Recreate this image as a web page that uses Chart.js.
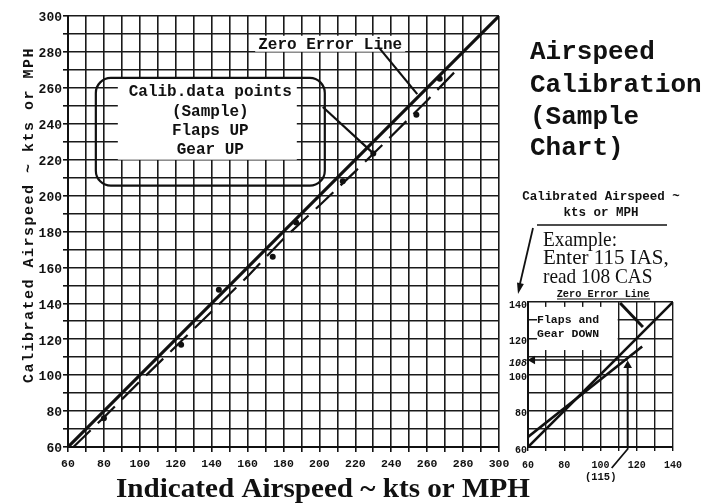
<!DOCTYPE html>
<html><head><meta charset="utf-8">
<script src="https://cdn.jsdelivr.net/npm/chart.js@4/dist/chart.umd.min.js"></script>
<style>
html,body{margin:0;padding:0;background:#fff;}
#wrap{position:relative;width:706px;height:504px;overflow:hidden;}
#main{position:absolute;left:0;top:0;}
#inset{position:absolute;left:480px;top:280px;}
</style></head><body>
<div id="wrap">
<canvas id="main" width="706" height="504"></canvas>
<canvas id="inset" width="226" height="224"></canvas>
</div>
<script>
// ---- main chart data (Indicated vs Calibrated airspeed) ----
const axisMin = 60, axisMax = 300, gridStep = 10, labelStep = 20;
const zeroLineIAS = [60, 300];
const zeroLineCAS = [60, 300];
const calibCurveIAS = [63, 80, 100, 120, 140, 160, 180, 200, 220, 240, 260, 275];
const calibCurveCAS = [60, 76.5, 96.5, 116, 135.5, 155, 176, 194.5, 213.5, 233, 253, 268.5];
const samplePointsIAS = [80, 123, 144, 174, 187, 213, 230, 254, 267];
const samplePointsCAS = [76, 117, 147.5, 166, 185, 208, 223.5, 245, 265];
// ---- inset chart data (Flaps and Gear DOWN) ----
const insetMin = 60, insetMax = 140;
const insetZeroIAS = [60, 140];
const insetZeroCAS = [60, 140];
const insetCalibIAS = [60, 123];
const insetCalibCAS = [65.5, 115.5];
const exampleIAS = 115, exampleCAS = 108;
// ---- texts ----
const titleLines = ['Airspeed', 'Calibration', '(Sample', 'Chart)'];
const calloutLines = ['Calib.data points', '(Sample)', 'Flaps UP', 'Gear UP'];
const exampleLines = ['Example:', 'Enter 115 IAS,', 'read 108 CAS'];
const insetAxisLines = ['Calibrated Airspeed ~', 'kts or MPH'];
const insetCalloutLines = ['Flaps and', 'Gear DOWN'];
const xTitle = 'Indicated Airspeed ~ kts or MPH';
const yTitle = 'Calibrated Airspeed ~ kts or MPH';

const INK = '#111';
const pts = (xs, ys) => xs.map((x, i) => ({x, y: ys[i]}));
const mono = 'Liberation Mono';

function arrowHead(ctx, x0, y0, x1, y1, len, half) {
  const a = Math.atan2(y1 - y0, x1 - x0);
  ctx.beginPath();
  ctx.moveTo(x1, y1);
  ctx.lineTo(x1 - len * Math.cos(a) + half * Math.sin(a), y1 - len * Math.sin(a) - half * Math.cos(a));
  ctx.lineTo(x1 - len * Math.cos(a) - half * Math.sin(a), y1 - len * Math.sin(a) + half * Math.cos(a));
  ctx.closePath();
  ctx.fill();
}
function roundRect(ctx, x, y, w, h, r) {
  ctx.beginPath();
  ctx.moveTo(x + r, y);
  ctx.arcTo(x + w, y, x + w, y + h, r);
  ctx.arcTo(x + w, y + h, x, y + h, r);
  ctx.arcTo(x, y + h, x, y, r);
  ctx.arcTo(x, y, x + w, y, r);
  ctx.closePath();
}

const mainDecor = {
  id: 'mainDecor',
  beforeDraw(chart) {
    const c = chart.ctx;
    c.save(); c.fillStyle = '#fff'; c.fillRect(0, 0, chart.width, chart.height); c.restore();
  },
  afterDatasetsDraw(chart) {
    const {ctx, scales: {x, y}, chartArea} = chart;
    ctx.save();
    ctx.fillStyle = INK; ctx.strokeStyle = INK;
    // callout box
    const bx0 = x.getPixelForValue(75.5), bx1 = x.getPixelForValue(203);
    const by0 = y.getPixelForValue(265.5), by1 = y.getPixelForValue(205.5);
    ctx.fillStyle = '#fff';
    ctx.fillRect(bx0 + 22, by0 + 1, (bx1 - 28) - (bx0 + 22), (by1 - 26) - (by0 + 1));
    ctx.lineWidth = 2.2;
    roundRect(ctx, bx0, by0, bx1 - bx0, by1 - by0, 15);
    ctx.stroke();
    ctx.fillStyle = INK;
    ctx.font = 'bold 16px "' + mono + '"';
    ctx.textAlign = 'center'; ctx.textBaseline = 'middle';
    const cx = (bx0 + bx1) / 2;
    [14, 34, 53, 72].forEach((dy, i) => ctx.fillText(calloutLines[i], cx, by0 + dy));
    // leader from box to a data point
    ctx.lineWidth = 2.2;
    ctx.beginPath();
    ctx.moveTo(bx1 - 2, by0 + 29);
    ctx.lineTo(x.getPixelForValue(samplePointsIAS[6]), y.getPixelForValue(samplePointsCAS[6]));
    ctx.stroke();
    // Zero Error Line label
    const zx = x.getPixelForValue(206), zy = y.getPixelForValue(284);
    ctx.font = 'bold 16px "' + mono + '"';
    const zw = ctx.measureText('Zero Error Line').width;
    ctx.fillStyle = '#fff';
    ctx.fillRect(zx - zw / 2 - 3, zy - 9, zw + 6, 16);
    ctx.fillStyle = INK;
    ctx.fillText('Zero Error Line', zx, zy);
    ctx.beginPath();
    ctx.moveTo(x.getPixelForValue(233.5), y.getPixelForValue(282));
    ctx.lineTo(x.getPixelForValue(254.5), y.getPixelForValue(256.5));
    ctx.stroke();
    ctx.restore();
  },
  afterDraw(chart) {
    const {ctx, chartArea} = chart;
    ctx.save();
    ctx.fillStyle = INK; ctx.strokeStyle = INK;
    // y title
    ctx.save();
    ctx.translate(29, 215);
    ctx.rotate(-Math.PI / 2);
    ctx.font = 'bold 15px "' + mono + '"';
    try { ctx.letterSpacing = '1.5px'; } catch (e) {}
    ctx.textAlign = 'center'; ctx.textBaseline = 'middle';
    ctx.fillText(yTitle, 0, 0);
    ctx.restore();
    // x title
    ctx.save();
    ctx.font = 'bold 27px "Liberation Serif"';
    const w = ctx.measureText(xTitle).width;
    const sx = 414 / w;
    ctx.translate(323, 497);
    ctx.scale(sx, 1);
    ctx.textAlign = 'center'; ctx.textBaseline = 'alphabetic';
    ctx.fillText(xTitle, 0, 0);
    ctx.restore();
    // big title
    ctx.font = 'bold 26px "' + mono + '"';
    ctx.textAlign = 'left'; ctx.textBaseline = 'middle';
    [52, 85, 117, 148].forEach((yy, i) => ctx.fillText(titleLines[i], 530, yy));
    // inset axis title
    ctx.font = 'bold 12.5px "' + mono + '"';
    ctx.textAlign = 'center';
    ctx.fillText(insetAxisLines[0], 601, 197);
    ctx.fillText(insetAxisLines[1], 601, 213);
    ctx.lineWidth = 1.5;
    ctx.beginPath(); ctx.moveTo(537, 225); ctx.lineTo(667, 225); ctx.stroke();
    // example text
    ctx.font = '21px "Liberation Serif"';
    ctx.textAlign = 'left';
    [240, 258.5, 277].forEach((yy, i) => {
      ctx.save();
      const tw = ctx.measureText(exampleLines[i]).width;
      ctx.translate(543, yy);
      ctx.scale(i === 1 ? Math.min(1, 134 / tw) : 0.92, 1);
      ctx.fillText(exampleLines[i], 0, 0);
      ctx.restore();
    });
    // example arrow
    ctx.lineWidth = 1.8;
    ctx.beginPath(); ctx.moveTo(533, 228); ctx.lineTo(519, 288); ctx.stroke();
    arrowHead(ctx, 533, 228, 518, 294, 11, 3.5);
    ctx.restore();
  }
};

const tickFont = (size) => ({family: mono, weight: 'bold', size});

new Chart(document.getElementById('main'), {
  type: 'scatter',
  data: {
    datasets: [
      {label: 'Calibration curve', data: pts(calibCurveIAS, calibCurveCAS), showLine: true,
       borderColor: INK, borderWidth: 2.2, borderDash: [24, 10], pointRadius: 0, tension: 0},
      {label: 'Zero Error Line', data: pts(zeroLineIAS, zeroLineCAS), showLine: true,
       borderColor: INK, borderWidth: 3.2, pointRadius: 0},
      {label: 'Calib. data points', data: pts(samplePointsIAS, samplePointsCAS), showLine: false,
       pointRadius: 3, backgroundColor: INK, borderWidth: 0}
    ]
  },
  options: {
    responsive: false, animation: false, devicePixelRatio: 1,
    layout: {padding: {left: 0, right: 207, top: 16, bottom: 0}},
    plugins: {legend: {display: false}, tooltip: {enabled: false}},
    scales: {
      x: {
        type: 'linear', min: axisMin, max: axisMax,
        afterFit: s => { s.height = 57; },
        border: {color: INK, width: 2},
        grid: {color: '#1a1a1a', lineWidth: 1.6, tickLength: 5, tickColor: INK},
        ticks: {stepSize: gridStep, autoSkip: false, maxRotation: 0, padding: 5, color: INK,
                font: tickFont(11.5), callback: v => v % labelStep === 0 ? String(v) : ''}
      },
      y: {
        type: 'linear', min: axisMin, max: axisMax,
        afterFit: s => { s.width = 68; },
        border: {color: INK, width: 2},
        grid: {color: '#1a1a1a', lineWidth: 1.6, tickLength: 5, tickColor: INK},
        ticks: {stepSize: gridStep, autoSkip: false, padding: 1, color: INK, labelOffset: 2,
                font: tickFont(13), callback: v => v % labelStep === 0 ? String(v) : ''}
      }
    }
  },
  plugins: [mainDecor]
});

const insetDecor = {
  id: 'insetDecor',
  beforeDatasetsDraw(chart) {
    const {ctx, scales: {x, y}} = chart;
    ctx.save();
    ctx.fillStyle = '#fff';
    const l = x.getPixelForValue(65), r = x.getPixelForValue(109.5);
    const t = y.getPixelForValue(137.3), b = y.getPixelForValue(113.5);
    ctx.fillRect(l, t, r - l, b - t);
    ctx.restore();
  },
  afterDraw(chart) {
    const {ctx, scales: {x, y}, chartArea} = chart;
    ctx.save();
    ctx.fillStyle = INK; ctx.strokeStyle = INK;
    ctx.font = 'bold 11.5px "' + mono + '"';
    ctx.textAlign = 'left'; ctx.textBaseline = 'middle';
    ctx.fillText(insetCalloutLines[0], x.getPixelForValue(65), y.getPixelForValue(130));
    ctx.fillText(insetCalloutLines[1], x.getPixelForValue(65), y.getPixelForValue(122.3));
    // zero error line label
    ctx.font = 'bold 10.3px "' + mono + '"';
    ctx.textAlign = 'center';
    ctx.fillText('Zero Error Line', 123, 14);
    ctx.lineWidth = 1.2;
    ctx.beginPath(); ctx.moveTo(77, 19); ctx.lineTo(170, 19); ctx.stroke();
    ctx.lineWidth = 3;
    ctx.beginPath();
    ctx.moveTo(x.getPixelForValue(110.8), y.getPixelForValue(139.4));
    ctx.lineTo(x.getPixelForValue(123.4), y.getPixelForValue(126.2));
    ctx.stroke();
    // (115) label and leader
    const px = x.getPixelForValue(exampleIAS);
    ctx.font = 'bold 10.5px "' + mono + '"';
    ctx.fillText('(' + exampleIAS + ')', px - 27, chartArea.bottom + 30);
    ctx.lineWidth = 1.8;
    ctx.beginPath();
    ctx.moveTo(px - 16, chartArea.bottom + 21);
    ctx.lineTo(px, chartArea.bottom + 2);
    ctx.lineTo(px, chartArea.bottom);
    ctx.stroke();
    ctx.restore();
  }
};

new Chart(document.getElementById('inset'), {
  type: 'scatter',
  data: {
    datasets: [
      {label: 'Zero Error Line', data: pts(insetZeroIAS, insetZeroCAS), showLine: true,
       borderColor: INK, borderWidth: 2.6, pointRadius: 0},
      {label: 'Flaps and Gear DOWN', data: pts(insetCalibIAS, insetCalibCAS), showLine: true,
       borderColor: INK, borderWidth: 2.6, pointRadius: 0},
      {label: 'Enter IAS', data: [{x: exampleIAS, y: insetMin}, {x: exampleIAS, y: exampleCAS - 3}], showLine: true,
       borderColor: INK, borderWidth: 2, pointStyle: 'triangle', pointRadius: [0, 5], pointRotation: 0,
       backgroundColor: INK, pointBorderWidth: 0},
      {label: 'Read CAS', data: [{x: exampleIAS, y: exampleCAS}, {x: insetMin + 2.5, y: exampleCAS}], showLine: true,
       borderColor: INK, borderWidth: 1.6, pointStyle: 'triangle', pointRadius: [0, 5], pointRotation: -90,
       backgroundColor: INK, pointBorderWidth: 0}
    ]
  },
  options: {
    responsive: false, animation: false, devicePixelRatio: 1,
    layout: {padding: {left: 0, right: 33, top: 22, bottom: 0}},
    plugins: {legend: {display: false}, tooltip: {enabled: false}},
    scales: {
      x: {
        type: 'linear', min: insetMin, max: insetMax,
        afterFit: s => { s.height = 57; },
        border: {color: INK, width: 2},
        grid: {color: '#1a1a1a', lineWidth: 1.4, tickLength: 4, tickColor: INK},
        ticks: {stepSize: gridStep, autoSkip: false, maxRotation: 0, padding: 8, color: INK,
                font: tickFont(10), callback: v => v % labelStep === 0 ? String(v) : ''}
      },
      y: {
        type: 'linear', min: insetMin, max: insetMax,
        afterFit: s => { s.width = 48; },
        afterBuildTicks: s => { s.ticks.push({value: exampleCAS}); s.ticks.sort((a, b) => a.value - b.value); },
        border: {color: INK, width: 2},
        grid: {color: c => (c.tick && c.tick.value === exampleCAS) ? 'rgba(0,0,0,0)' : '#1a1a1a',
               lineWidth: 1.4, drawTicks: false},
        ticks: {autoSkip: false, padding: 1, color: INK, labelOffset: 3,
                font: c => ({family: mono, weight: 'bold', size: 10,
                             style: (c.tick && c.tick.value === exampleCAS) ? 'italic' : 'normal'}),
                callback: v => (v % labelStep === 0 || v === exampleCAS) ? String(v) : ''}
      }
    }
  },
  plugins: [insetDecor]
});
</script>
</body></html>
